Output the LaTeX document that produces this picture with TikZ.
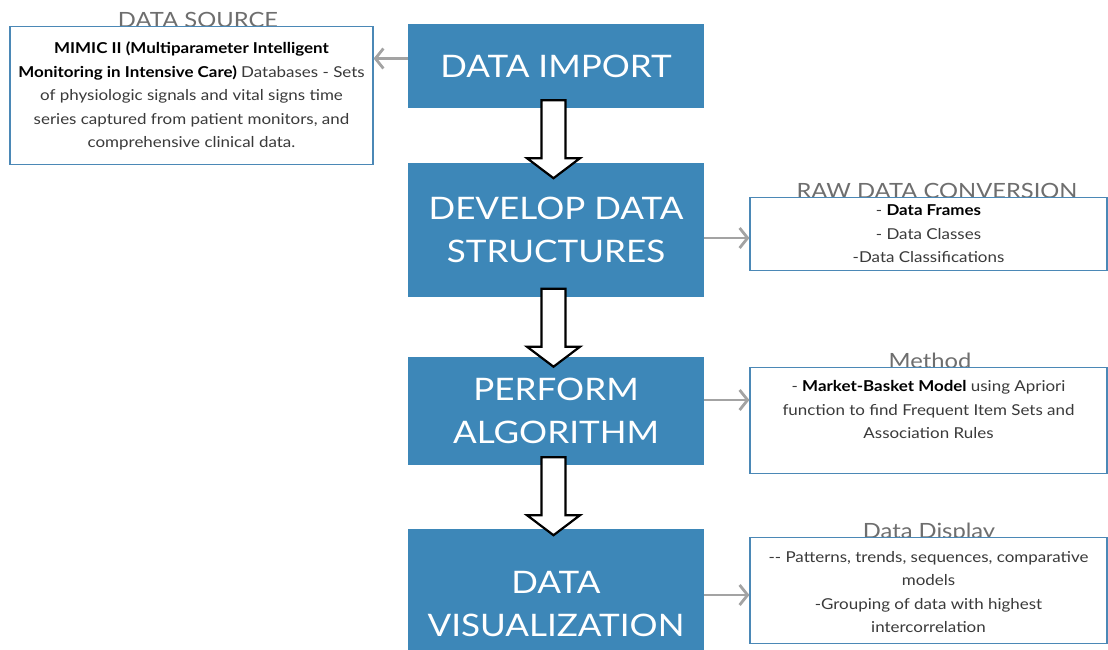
\documentclass[tikz,border=0pt]{standalone}
\usepackage{fontspec}
\setmainfont{Lato}[FakeStretch=1.13]
\usetikzlibrary{calc,arrows.meta}

\definecolor{stepblue}{HTML}{3D87B8}
\definecolor{frameblue}{HTML}{4B88B6}
\definecolor{linkgray}{HTML}{A3A3A3}
\definecolor{titlegray}{HTML}{6E6E6E}
\definecolor{bodytext}{HTML}{3A3A3A}

\begin{document}
\begin{tikzpicture}[x=1pt,y=-1pt,
  stagebox/.style={fill=stepblue, draw=none, text=white, minimum width=296pt,
    align=center, inner sep=0pt, font=\fontsize{31}{43}\selectfont},
  notebox/.style={draw=frameblue, line width=1.2pt, fill=white, align=center,
    anchor=north, inner sep=0pt, text=bodytext,
    font=\fontsize{15}{23.5}\selectfont},
  notetitle/.style={anchor=base, text=titlegray, inner sep=0pt,
    font=\fontsize{21}{24}\selectfont},
  link/.style={draw=linkgray, line width=2.8pt,
    -{Straight Barb[length=8pt,width=20pt]}},
  flow/.style={draw=black, line width=2.2pt, fill=white}
]
\useasboundingbox (0,0) rectangle (1108,650);
\clip (0,0) rectangle (1108,650);

% main process steps
\node[stagebox, minimum height=84pt]  (imp) at (556,66)    {DATA IMPORT};
\node[stagebox, minimum height=134pt] (dev) at (556,229.5) {DEVELOP DATA\\STRUCTURES};
\node[stagebox, minimum height=108pt] (alg) at (556,411)   {PERFORM\\ALGORITHM};
\node[stagebox, minimum height=150pt] (vis) at (556,604)   {DATA\\VISUALIZATION};

% section titles (drawn first so the note frames sit over their feet)
\node[notetitle] (tsrc) at (198,28)  {DATA SOURCE};
\node[notetitle] (traw) at (937,198) {RAW DATA CONVERSION};
\node[notetitle] (tmet) at (930,368) {Method};
\node[notetitle] (tdis) at (929,538) {Data Display};

% notes: text height/depth place the last baseline inside each frame
\node[notebox, minimum width=363pt, text height=121pt, text depth=17pt] (src) at (191.5,26)
  {\textcolor{black}{\textbf{MIMIC II (Multiparameter Intelligent}}\\
   \textcolor{black}{\textbf{Monitoring in Intensive Care)}} Databases - Sets\\
   of physiologic signals and vital signs time\\
   series captured from patient monitors, and\\
   comprehensive clinical data.};
\node[notebox, minimum width=357pt, text height=65pt, text depth=8pt] (raw) at (928.5,197)
  {- \textcolor{black}{\textbf{Data Frames}}\\
   - Data Classes\\
   -Data Classifications};
\node[notebox, minimum width=357pt, text height=71pt, text depth=35pt] (met) at (928.5,367)
  {- \textcolor{black}{\textbf{Market-Basket Model}} using Apriori\\
   function to find Frequent Item Sets and\\
   Association Rules};
\node[notebox, minimum width=357pt, text height=95pt, text depth=11pt] (dis) at (928.5,537)
  {-{}- Patterns, trends, sequences, comparative\\
   models\\
   -Grouping of data with highest\\
   intercorrelation};

% links from steps to notes
\draw[link] ($(imp.west)+(0,-7.5)$) coordinate (l1) -- (l1 -| src.east);
\draw[link] ($(dev.east)+(0,8.5)$)  coordinate (l2) -- (l2 -| raw.west);
\draw[link] ($(alg.east)+(0,-11)$)  coordinate (l3) -- (l3 -| met.west);
\draw[link] ($(vis.east)+(0,-9)$)   coordinate (l4) -- (l4 -| dis.west);

% block arrows between steps
\foreach \s in {imp,dev,alg}{
  \draw[flow] ($(\s.south)+(-14.5,-8)$) -- ++(24,0) -- ++(0,58) -- ++(14.5,0)
    -- ++(-26.5,20) -- ++(-26.5,-20) -- ++(14.5,0) -- cycle;
}
\end{tikzpicture}
\end{document}
